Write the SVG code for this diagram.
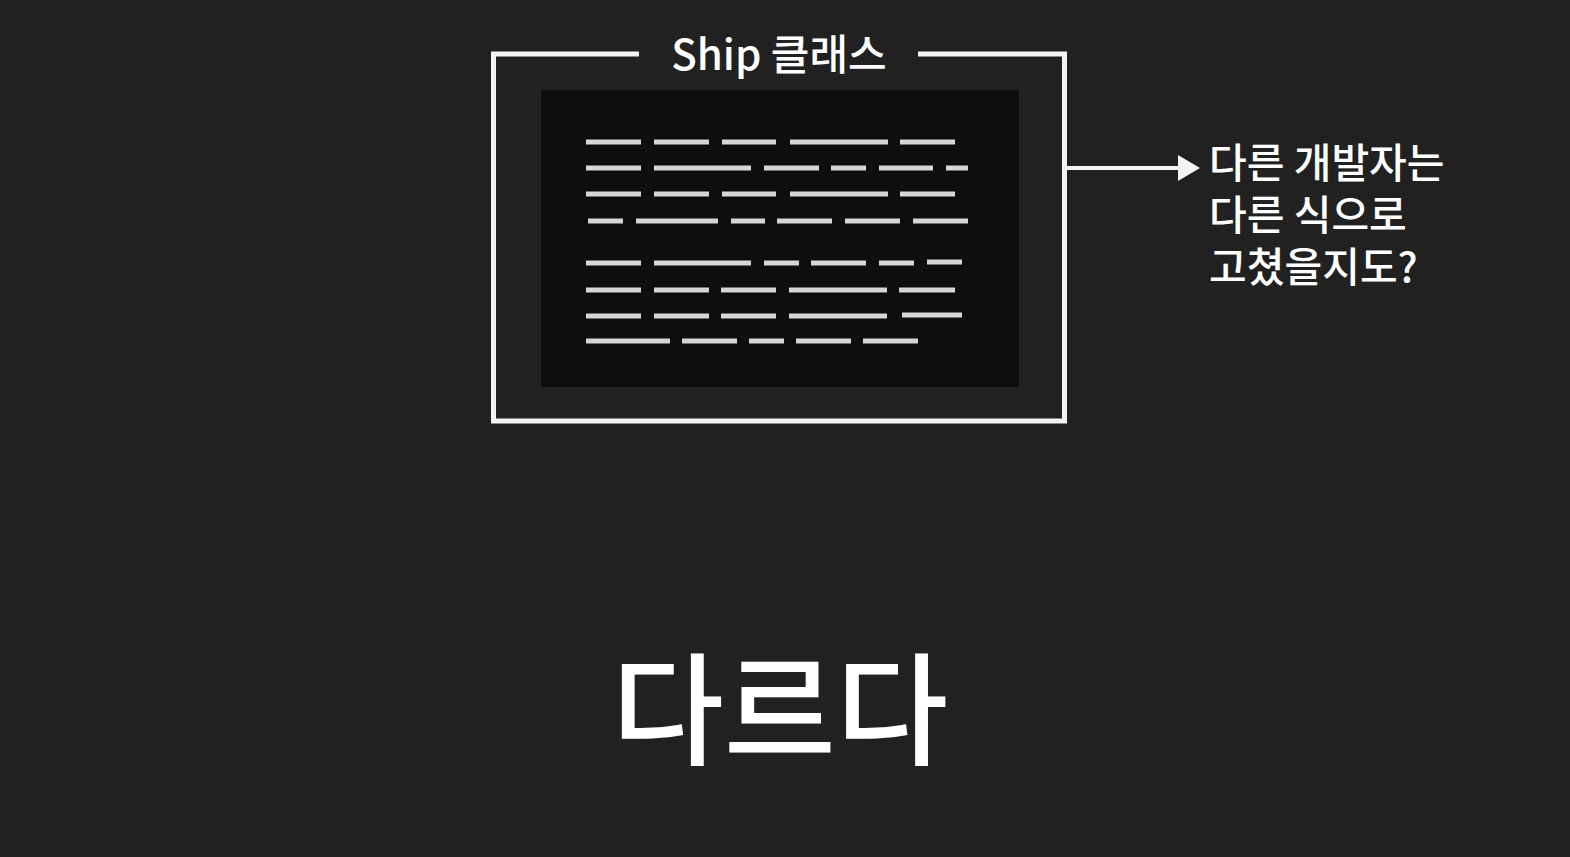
<svg xmlns="http://www.w3.org/2000/svg" width="1570" height="857" viewBox="0 0 1570 857">
<defs>
<style>
.txt{font-family:"Noto Sans CJK KR","Noto Sans",sans-serif;fill:#ffffff;font-weight:500}
.frame{fill:none;stroke:#f4f4f4;stroke-width:5}
.dash{stroke:#d6d6d6;stroke-width:5}
.conn{stroke:#f4f4f4;stroke-width:4;fill:none}
</style>
</defs>
<rect x="0" y="0" width="1570" height="857" fill="#212121"/>
<g id="ship-class">
<path class="frame" d="M639,54 H493.5 V421 H1064.5 V54 H918"/>
<text class="txt" x="779" y="70" font-size="42" text-anchor="middle">Ship 클래스</text>
<rect x="541" y="90" width="478" height="297" fill="#0e0e0e"/>
<g class="dash">
<path d="M586,142H641M654,142H709M722,142H776M790,142H888M900,142H955"/>
<path d="M586,168H641M654,168H751M764,168H819M831,168H866M879,168H933M946,168H968"/>
<path d="M586,194H641M654,194H709M722,194H776M790,194H888M900,194H955"/>
<path d="M588,221H623M636,221H718M731,221H765M777,221H832M845,221H900M913,221H968"/>
<path d="M586,263H641M654,263H751M764,263H799M811,263H866M879,263H914M927,262H962"/>
<path d="M586,290H641M654,290H709M721,290H776M789,290H887M899,290H955"/>
<path d="M586,316H641M654,316H709M721,316H776M789,316H887M902,315H962"/>
<path d="M586,341H670M682,341H737M749,341H784M796,341H851M863,341H918"/>
</g>
</g>
<g id="connectors">
<line class="conn" x1="1066" y1="168" x2="1180" y2="168"/>
<polygon points="1178,155 1200,168 1178,181" fill="#f4f4f4"/>
</g>
<g id="note">
<text class="txt" x="1209" y="178" font-size="41">다른 개발자는</text>
<text class="txt" x="1209" y="230" font-size="41">다른 식으로</text>
<text class="txt" x="1209" y="282" font-size="41">고쳤을지도?</text>
</g>
<g id="title">
<text class="txt" x="780" y="755" font-size="122" text-anchor="middle">다르다</text>
</g>
</svg>
